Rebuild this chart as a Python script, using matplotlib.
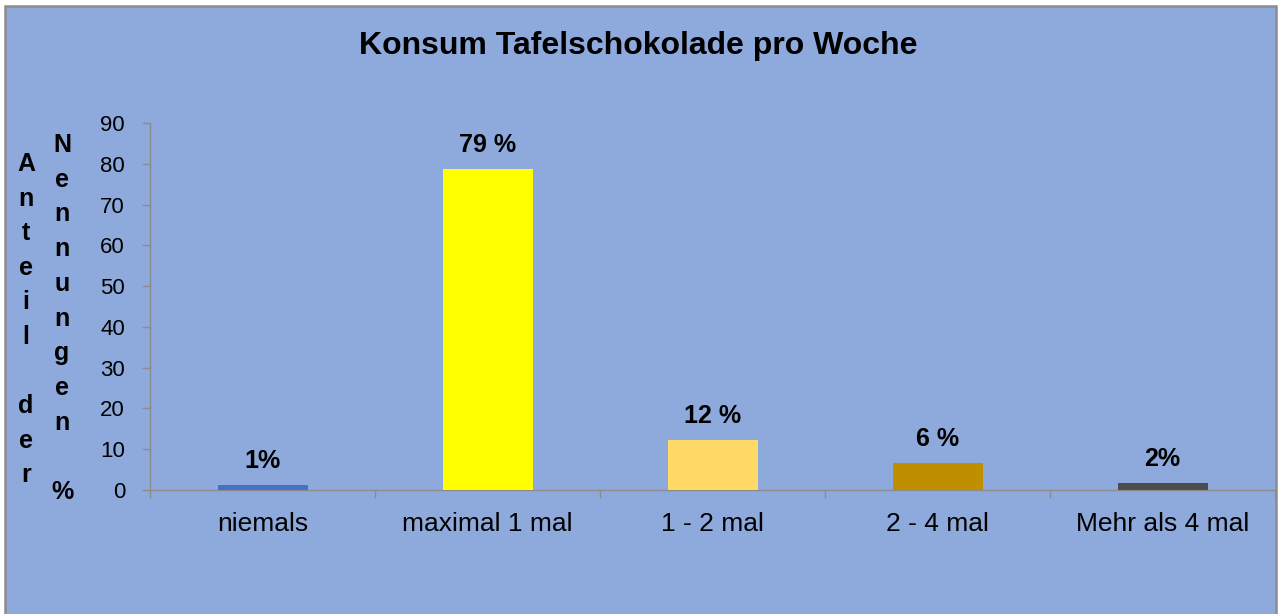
import matplotlib
matplotlib.use("Agg")
import matplotlib.pyplot as plt
from matplotlib.patches import Rectangle
from matplotlib.ticker import FixedLocator

plt.rcParams['font.family'] = ['Liberation Sans', 'DejaVu Sans']

categories = ["niemals", "maximal 1 mal", "1 - 2 mal", "2 - 4 mal", "Mehr als 4 mal"]
values = [1.2, 78.6, 12.2, 6.6, 1.7]
value_labels = ["1%", "79 %", "12 %", "6 %", "2%"]
bar_colors = ["#4472C4", "#FFFF00", "#FFD966", "#BF8F00", "#4D4D4D"]
yticks = [0, 10, 20, 30, 40, 50, 60, 70, 80, 90]
title = "Konsum Tafelschokolade pro Woche"
ylabel1 = "Anteil der"
ylabel2 = "Nennungen %"

W, H = 1279, 614
fig = plt.figure(figsize=(W / 100, H / 100), dpi=100)
fig.patch.set_facecolor("white")

bg = "#8EA9DB"
# chart area background with border (bottom edge runs off the picture)
fig.patches.append(Rectangle((5 / W, -0.02), (1276 - 5) / W, (H - 6) / H + 0.02,
                             transform=fig.transFigure, facecolor=bg,
                             edgecolor="#8C8C8C", linewidth=1.8, zorder=-10))

ax = fig.add_axes([150 / W, (H - 490) / H, (1275 - 150) / W, (490 - 123) / H])
ax.set_facecolor("none")
ax.set_zorder(5)

x = list(range(len(categories)))
ax.bar(x, values, width=0.4, color=bar_colors, zorder=3)
for xi, v, lab in zip(x, values, value_labels):
    ax.annotate(lab, (xi, v), xytext=(0, 9), textcoords="offset points",
                ha="center", va="bottom", fontsize=18, fontweight="bold")

ax.set_xlim(-0.5, len(categories) - 0.5)
ax.set_ylim(0, 90)
ax.set_yticks(yticks)
ax.set_xticks(x)
ax.set_xticklabels(categories, fontsize=19)
ax.xaxis.set_minor_locator(FixedLocator([i + 0.5 for i in range(-1, len(categories))]))
ax.tick_params(axis="x", which="major", length=0, pad=16)
ax.tick_params(axis="x", which="minor", length=6, color="#8C8C8C", width=1)
ax.tick_params(axis="y", length=6, color="#8C8C8C", width=1, pad=12, labelsize=16)

for s in ["top", "right"]:
    ax.spines[s].set_visible(False)
for s in ["left", "bottom"]:
    ax.spines[s].set_color("#8C8C8C")
    ax.spines[s].set_linewidth(1)

fig.text(638 / W, 1 - 46 / H, title, ha="center", va="center",
         fontsize=23, fontweight="bold")

# vertical stacked y-axis label letters
def stacked(text, xc, y0, dy):
    for i, ch in enumerate(text):
        if ch.strip():
            fig.text(xc / W, 1 - (y0 + i * dy) / H, ch, ha="center", va="center",
                     fontsize=18, fontweight="bold")

stacked(ylabel1, 26, 164, 34.6)
stacked(ylabel2, 62, 145, 34.7)

fig.savefig("out.png", dpi=100, facecolor=fig.get_facecolor())
